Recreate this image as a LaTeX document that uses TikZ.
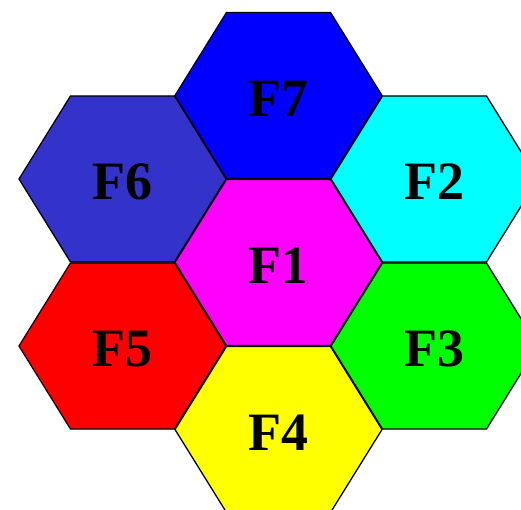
\documentclass[tikz,border=0pt]{standalone}
\usepackage{fontspec}
\setmainfont{Liberation Serif}
\usepackage{xcolor}
\definecolor{hexindigo}{RGB}{51,51,204}
\definecolor{hexmagenta}{RGB}{255,0,255}
\definecolor{hexblue}{RGB}{0,0,255}
\definecolor{hexyellow}{RGB}{255,255,0}
\definecolor{hexred}{RGB}{255,0,0}
\definecolor{hexcyan}{RGB}{0,255,255}
\definecolor{hexgreen}{RGB}{0,255,0}
\usepackage{tikz}

\begin{document}
\begin{tikzpicture}[x=1pt,y=-1pt,
hexcell/.style={draw=black,line width=1.3pt,line join=miter},
hexlabel/.style={font=\fontsize{54}{54}\selectfont\bfseries,text=black,inner sep=0pt,yshift=-3pt}]
\useasboundingbox (0,0) rectangle (521,510);
% seven cells of the cluster: name/centre/fill
\foreach \n/\cx/\cy/\col in {1/278.5/262.5/hexmagenta,7/278.5/95.5/hexblue,4/278.5/429.5/hexyellow,
  6/122.5/179/hexindigo,5/122.5/346/hexred,2/434.5/179/hexcyan,3/434.5/346/hexgreen}{
  \filldraw[hexcell,fill=\col] (\cx,\cy) ++(-103.5,0) -- ++(51.5,-83) -- ++(104,0)
    -- ++(51.5,83) -- ++(-51.5,83) -- ++(-104,0) -- cycle;
  \node[hexlabel] (f\n) at (\cx,\cy) {F\n};
}
\end{tikzpicture}
\end{document}
